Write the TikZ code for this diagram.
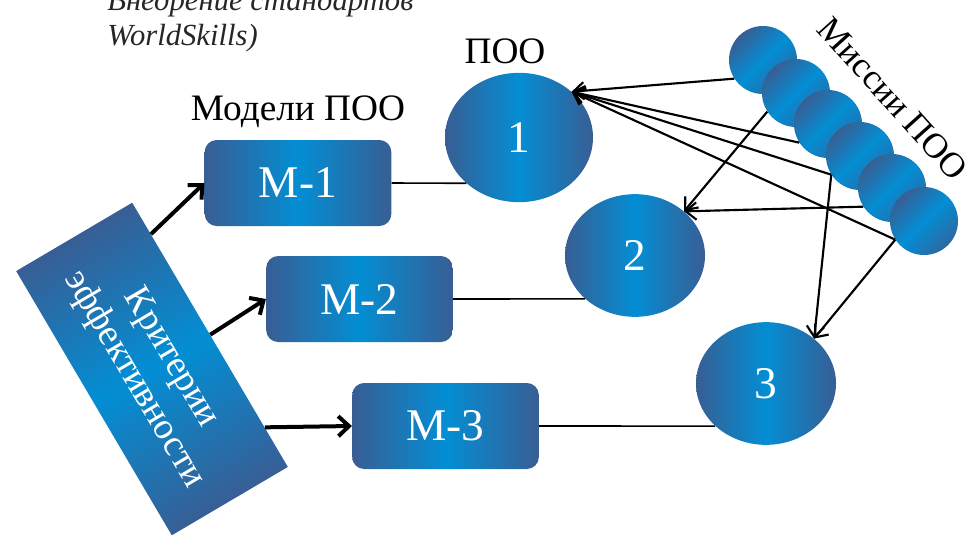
\documentclass[tikz,border=0pt]{standalone}
\usepackage{fontspec}
\setmainfont{Liberation Serif}
\usetikzlibrary{shapes.geometric,arrows.meta,calc}
\definecolor{bluedark}{RGB}{56,94,148}
\definecolor{bluelight}{RGB}{3,142,212}

\begin{document}
\begin{tikzpicture}[x=0.75pt,y=-0.75pt]
    \tikzstyle{model}=[
        rectangle,
        rounded corners = 9pt,
        left color = bluedark, right color = bluedark, middle color = bluelight,
        minimum width = 140pt,
        minimum height = 64.5pt,
        text = white,
        font = \fontsize{34}{38}\selectfont
    ]
    \tikzstyle{poo}=[
        ellipse,
        inner sep = 0pt,
        left color = bluedark, right color = bluedark, middle color = bluelight,
        minimum width = 105pt,
        minimum height = 92pt,
        text = white,
        font = \fontsize{34}{38}\selectfont
    ]
    \tikzstyle{mission}=[
        circle,
        inner sep = 0pt,
        left color = bluedark, right color = bluedark!80!bluelight, middle color = bluelight,
        shading angle = 45,
        minimum size = 51pt
    ]
    \tikzstyle{label}=[
        font = \fontsize{28}{32}\selectfont
    ]

    \useasboundingbox (0,0) rectangle (975,536);

	\node[font=\fontsize{23}{27}\selectfont\itshape, text=black!85, anchor=base west, inner sep=0pt] (ws1) at (107,10) {Внедрение стандартов};
	\node[font=\fontsize{23}{27}\selectfont\itshape, text=black!85, anchor=base west, inner sep=0pt] (ws2) at (107,45) {WorldSkills)};

	\node[model] (M1) at (298,183)   {М-1};
	\node[model] (M2) at (359.5,299) {М-2};
	\node[model] (M3) at (445.5,426) {М-3};
	\node[label] (models) at (298,112) {Модели ПОО};

	\node[poo, minimum width=111pt, minimum height=97pt] (e1) at (519,137.5) {1};
	\node[poo] (e2) at (635,255.5) {2};
	\node[poo] (e3) at (766,383.5) {3};
	\node[label] (poos) at (505,51) {ПОО};

	\node[rectangle, rotate=-59.5, left color=bluedark, right color=bluedark, middle color=bluelight,
	      shading angle=30.5,
	      minimum width=230pt, minimum height=101pt, text=white, align=center,
	      font=\fontsize{28}{32}\selectfont] (crit) at (152,369) {Критерии\\эффективности};

	\node[mission] (m1) at (763,60)  {};
	\node[mission] (m2) at (796,93)  {};
	\node[mission] (m3) at (828,124) {};
	\node[mission] (m4) at (860,156) {};
	\node[mission] (m5) at (892,188) {};
	\node[mission] (m6) at (924,221) {};
	\node[label, rotate=-48, font=\fontsize{26.5}{30}\selectfont] (missions) at (893,99) {Миссии ПОО};

	\path[-, line width=1.2pt] (M1.east) edge (e1.221);
	\path[-, line width=1.2pt] (M2.east) edge (e2.221);
	\path[-, line width=1.2pt] (M3.east) edge (e3.220);

	\path[-{Straight Barb[length=8pt,width=15pt]}, line width=3pt] ($(crit.north west)!0.12!(crit.north east)$) edge (M1.west);
	\path[-{Straight Barb[length=8pt,width=15pt]}, line width=3pt] ($(crit.north west)!0.5!(crit.north east)$) edge (M2.west);
	\path[-{Straight Barb[length=8pt,width=15pt]}, line width=3pt] ($(crit.north west)!0.85!(crit.north east)$) edge (M3.west);

	\path[-{Straight Barb[length=8pt,width=13pt]}, line width=1.6pt] (m1.213) edge (e1.41);
	\path[-{Straight Barb[length=8pt,width=13pt]}, line width=1.6pt] (m3.213) edge (e1.41);
	\path[-{Straight Barb[length=8pt,width=13pt]}, line width=1.6pt] (m4.213) edge (e1.41);
	\path[-{Straight Barb[length=8pt,width=13pt]}, line width=1.6pt] (m6.213) edge (e1.41);
	\path[-{Straight Barb[length=8pt,width=13pt]}, line width=1.6pt] (m2.213) edge (e2.42);
	\path[-{Straight Barb[length=8pt,width=13pt]}, line width=1.6pt] (m5.213) edge (e2.42);
	\path[-{Straight Barb[length=8pt,width=13pt]}, line width=1.6pt] (m4.213) edge (e3.43);
	\path[-{Straight Barb[length=8pt,width=13pt]}, line width=1.6pt] (m6.213) edge (e3.43);

\end{tikzpicture}
\end{document}
